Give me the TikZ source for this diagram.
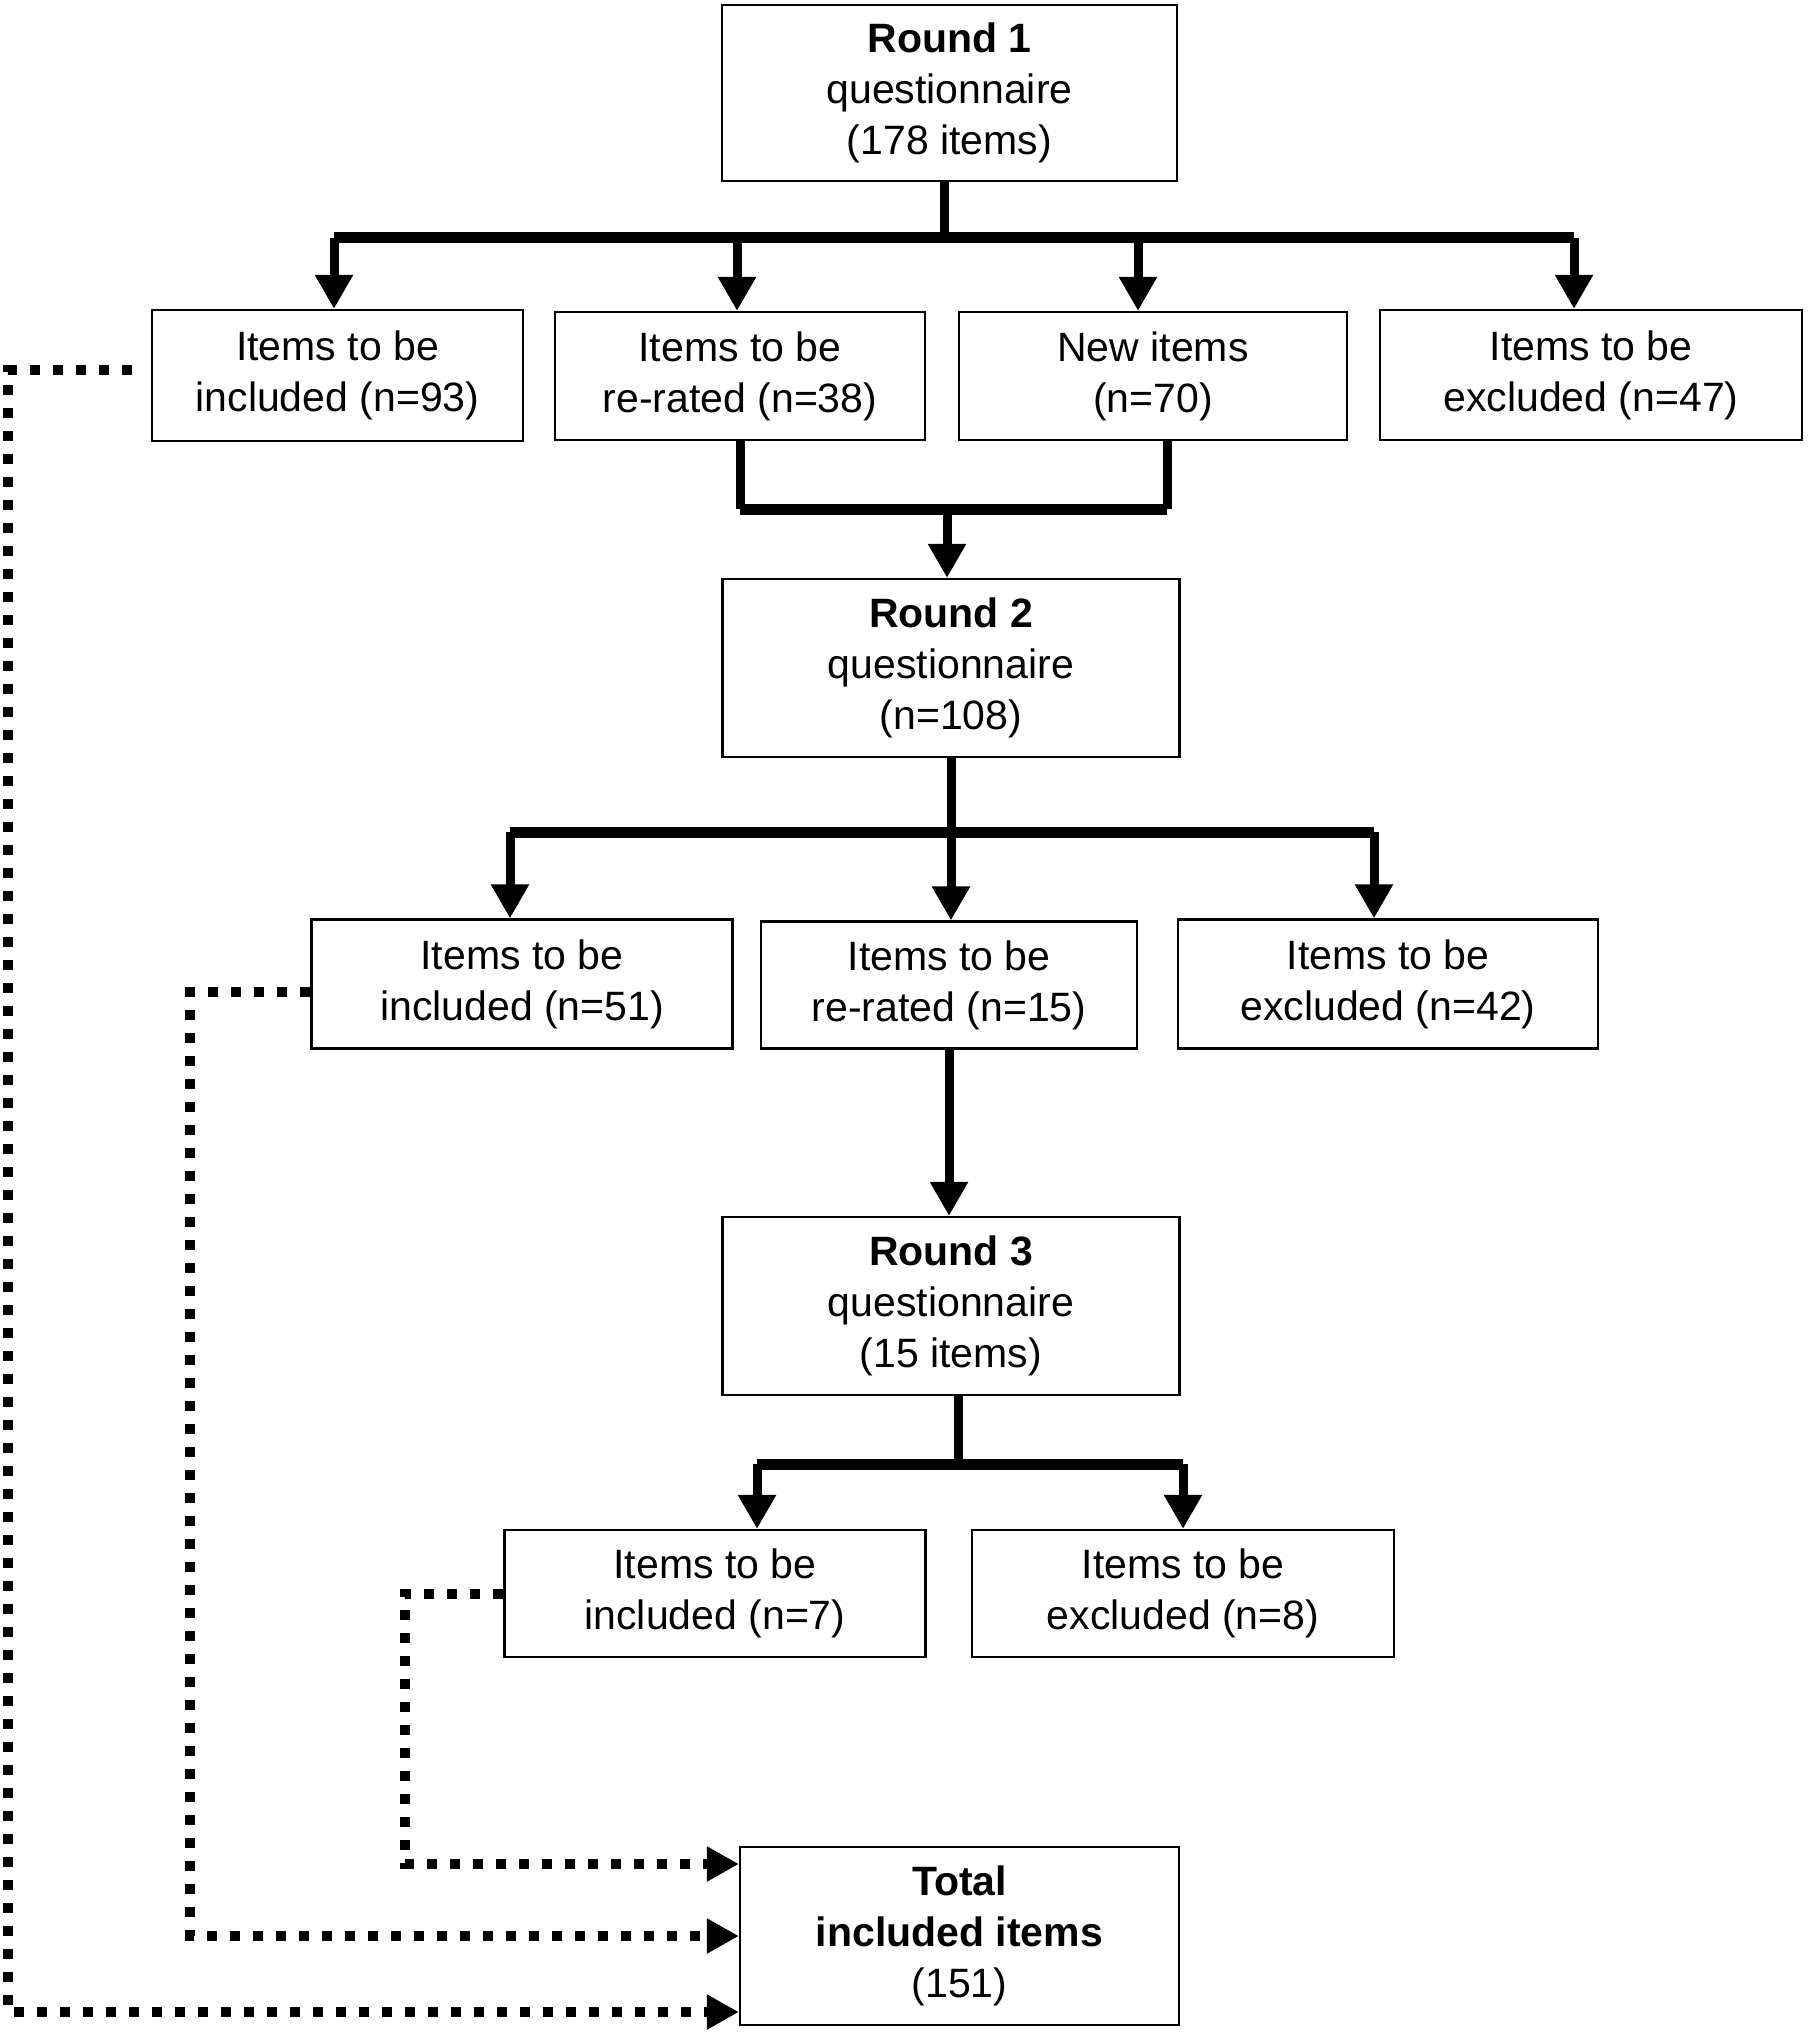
\documentclass[tikz,border=0pt]{standalone}
\usepackage{fontspec}
\setmainfont{Liberation Sans}
\usetikzlibrary{arrows.meta}

\begin{document}
\begin{tikzpicture}[x=0.5pt,y=-0.5pt]
\tikzstyle{box}=[draw,shape=rectangle,line width=1.1pt,align=center,inner sep=0pt,font=\fontsize{20.5}{25.5}\selectfont];
\tikzstyle{joinline}=[line width=4.5pt];
\tikzstyle{arrowline}=[joinline,-{Triangle[length=17pt,width=18pt]}];
\tikzstyle{branchbar}=[line width=5.5pt,line cap=square];
\tikzstyle{dotline}=[line width=5pt,dash pattern=on 5pt off 6.5pt,-{Triangle[length=16pt,width=16.5pt]}];
\useasboundingbox (0,0) rectangle (1811,2032);
\path (949.5,93) node[box,minimum width=227.5pt,minimum height=88pt] (r1) {\textbf{Round 1}\\questionnaire\\(178 items)};
\path (337.5,375.5) node[box,minimum width=185.5pt,minimum height=65.5pt] (A) {Items to be\\included (n=93)};
\path (740,376) node[box,minimum width=185pt,minimum height=64pt] (B) {Items to be\\re-rated (n=38)};
\path (1153,376) node[box,minimum width=194pt,minimum height=64pt] (C) {New items\\(n=70)};
\path (1591,375) node[box,minimum width=211pt,minimum height=65pt] (D) {Items to be\\excluded (n=47)};
\path (951,668) node[box,minimum width=228.5pt,minimum height=89pt] (r2) {\textbf{Round 2}\\questionnaire\\(n=108)};
\path (522,984) node[box,minimum width=210.5pt,minimum height=64.5pt] (E) {Items to be\\included (n=51)};
\path (949,985) node[box,minimum width=188pt,minimum height=63.5pt] (F) {Items to be\\re-rated (n=15)};
\path (1388,984) node[box,minimum width=210pt,minimum height=64.5pt] (G) {Items to be\\excluded (n=42)};
\path (951,1306) node[box,minimum width=228.5pt,minimum height=89pt] (r3) {\textbf{Round 3}\\questionnaire\\(15 items)};
\path (715,1593.5) node[box,minimum width=210.5pt,minimum height=63.5pt] (H) {Items to be\\included (n=7)};
\path (1183,1593.5) node[box,minimum width=211pt,minimum height=63.5pt] (I) {Items to be\\excluded (n=8)};
\path (959.5,1936) node[box,minimum width=219.5pt,minimum height=89pt] (T) {\textbf{Total}\\\textbf{included items}\\(151)};
\coordinate (b1) at (944,238);
\draw[joinline] (r1.south -| b1) -- (b1);
\draw[branchbar] ([xshift=-1.75pt]A.north |- b1) -- ([xshift=-8.5pt]D.north |- b1);
\draw[arrowline] ([xshift=-1.75pt]A.north |- b1) -- ([xshift=-1.75pt]A.north);
\draw[arrowline] ([xshift=-1.5pt]B.north |- b1) -- ([xshift=-1.5pt]B.north);
\draw[arrowline] ([xshift=-7.5pt]C.north |- b1) -- ([xshift=-7.5pt]C.north);
\draw[arrowline] ([xshift=-8.5pt]D.north |- b1) -- ([xshift=-8.5pt]D.north);
\coordinate (m1) at (947,509);
\draw[joinline] (B.south) -- (B.south |- m1);
\draw[joinline] ([xshift=7pt]C.south) -- ([xshift=7pt]C.south |- m1);
\draw[branchbar] (B.south |- m1) -- ([xshift=7pt]C.south |- m1);
\draw[arrowline] (m1) -- (m1 |- r2.north);
\coordinate (b2) at (951,832);
\draw[arrowline] (r2.south) -- (r2.south |- F.north);
\draw[branchbar] ([xshift=-6pt]E.north |- b2) -- ([xshift=-7pt]G.north |- b2);
\draw[arrowline] ([xshift=-6pt]E.north |- b2) -- ([xshift=-6pt]E.north);
\draw[arrowline] ([xshift=-7pt]G.north |- b2) -- ([xshift=-7pt]G.north);
\draw[arrowline] (F.south) -- (F.south |- r3.north);
\coordinate (b3) at (958,1464);
\draw[joinline] (r3.south -| b3) -- (b3);
\draw[branchbar] ([xshift=21pt]H.north |- b3) -- (I.north |- b3);
\draw[arrowline] ([xshift=21pt]H.north |- b3) -- ([xshift=21pt]H.north);
\draw[arrowline] (I.north |- b3) -- (I.north);
\coordinate (dA) at (8,2012);
\coordinate (dE) at (190,1936);
\coordinate (dH) at (405,1864);
\draw[dotline] ([xshift=-9.5pt,yshift=2.5pt]A.west) -| (dA) -- (dA -| T.west);
\draw[dotline] ([yshift=-4pt]E.west) -| (dE) -- (dE -| T.west);
\draw[dotline] (H.west) -| (dH) -- (dH -| T.west);
\end{tikzpicture}
\end{document}
